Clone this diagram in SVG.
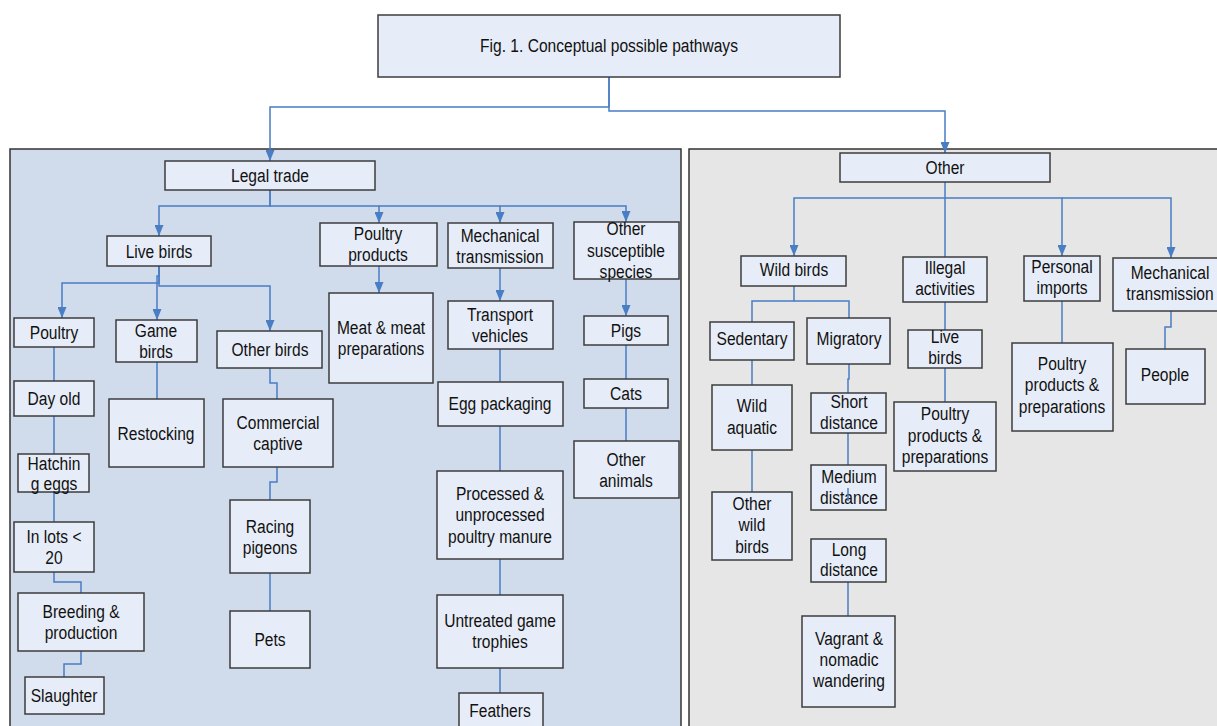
<svg xmlns="http://www.w3.org/2000/svg" width="1217" height="726" viewBox="0 0 1217 726">
<style>
.bx{fill:#e7edf8;stroke:#3c3c3c;stroke-width:1.5}
.c{fill:none;stroke:#4a7ec4;stroke-width:1.5}
.a{marker-end:url(#arr)}
text{font-family:"Liberation Sans Narrow","Arial Narrow","Liberation Sans",sans-serif;font-size:19px;fill:#111;text-anchor:middle}
</style>
<defs>
<marker id="arr" viewBox="0 0 10 10" refX="10" refY="5" markerWidth="11" markerHeight="9" markerUnits="userSpaceOnUse" orient="auto" preserveAspectRatio="none">
<path d="M0,0 L10,5 L0,10 z" fill="#4a7ec4"/>
</marker>
</defs>
<rect width="1217" height="726" fill="#fff"/>
<g id="panels">
<rect x="10" y="149" width="671" height="590" fill="#d0dbec" stroke="#333" stroke-width="1.5"/>
<rect x="689" y="149" width="540" height="590" fill="#e6e6e6" stroke="#333" stroke-width="1.5"/>
</g>
<g id="connectors">
<path class="c a" d="M609,77 V107 H270 V161"/>
<path class="c a" d="M609,77 V111 H945 V153"/>
<path class="c a" d="M270,190 V206 H159 V236"/>
<path class="c a" d="M270,190 V206 H379 V223"/>
<path class="c a" d="M379,206 H500 V223"/>
<path class="c a" d="M500,206 H626 V222"/>
<path class="c a" d="M379,266 V293"/>
<path class="c a" d="M500,268 V301"/>
<path class="c a" d="M626,279 V316"/>
<path class="c" d="M626,345 V379 M626,408 V441"/>
<path class="c" d="M500,349 V382 M500,426 V471 M500,559 V595 M500,668 V693"/>
<path class="c a" d="M159,266 V283 H62 V318"/>
<path class="c a" d="M159,266 V276 H157 V320"/>
<path class="c a" d="M159,266 V286 H270 V331"/>
<path class="c" d="M54,347 V381 M54,416 V454 M54,492 V522"/>
<path class="c" d="M54,572 V582 H81 V593"/>
<path class="c" d="M81,651 V664 H64 V677"/>
<path class="c" d="M157,362 V399"/>
<path class="c" d="M270,368 V383 H277 V399"/>
<path class="c" d="M277,467 V482 H270 V500"/>
<path class="c" d="M270,573 V611"/>
<path class="c a" d="M945,182 V198 H794 V256"/>
<path class="c" d="M945,198 V257"/>
<path class="c a" d="M945,198 H1062 V256"/>
<path class="c a" d="M1062,198 H1171 V258"/>
<path class="c" d="M794,286 V301 H752 V322"/>
<path class="c" d="M794,301 H849 V318"/>
<path class="c" d="M945,302 V330 M945,368 V402"/>
<path class="c" d="M1062,301 V343"/>
<path class="c" d="M1171,311 V327 H1165 V349"/>
<path class="c" d="M752,360 V385 M752,450 V492"/>
<path class="c" d="M849,364 V379 H848 V393"/>
<path class="c" d="M848,433 V465 M848,582 V616"/>
</g>
<g id="n-title"><rect class="bx" x="378" y="15" width="462" height="62"/><text transform="translate(609 0) scale(.82 1)" y="52">Fig. 1. Conceptual possible pathways</text></g>
<g id="n-legal"><rect class="bx" x="165" y="161" width="210" height="29"/><text transform="translate(270 0) scale(.82 1)" y="182">Legal trade</text></g>
<g id="n-livebirds"><rect class="bx" x="107" y="236" width="104" height="30"/><text transform="translate(159 0) scale(.82 1)" y="258">Live birds</text></g>
<g id="n-poultryproducts"><rect class="bx" x="320" y="223" width="117" height="43"/><text transform="translate(378 0) scale(.82 1)" y="240">Poultry</text><text transform="translate(378 0) scale(.82 1)" y="261">products</text></g>
<g id="n-mech"><rect class="bx" x="448" y="223" width="105" height="45"/><text transform="translate(500 0) scale(.82 1)" y="242">Mechanical</text><text transform="translate(500 0) scale(.82 1)" y="263">transmission</text></g>
<g id="n-othersus"><rect class="bx" x="574" y="222" width="105" height="57"/><text transform="translate(626 0) scale(.82 1)" y="235">Other</text><text transform="translate(626 0) scale(.82 1)" y="257">susceptible</text><text transform="translate(626 0) scale(.82 1)" y="278">species</text></g>
<g id="n-poultry"><rect class="bx" x="14" y="318" width="80" height="29"/><text transform="translate(54 0) scale(.82 1)" y="339">Poultry</text></g>
<g id="n-game"><rect class="bx" x="116" y="320" width="81" height="42"/><text transform="translate(156 0) scale(.82 1)" y="337">Game</text><text transform="translate(156 0) scale(.82 1)" y="358">birds</text></g>
<g id="n-otherbirds"><rect class="bx" x="217" y="331" width="105" height="37"/><text transform="translate(270 0) scale(.82 1)" y="356">Other birds</text></g>
<g id="n-meat"><rect class="bx" x="329" y="293" width="104" height="90"/><text transform="translate(381 0) scale(.82 1)" y="334">Meat &amp; meat</text><text transform="translate(381 0) scale(.82 1)" y="355">preparations</text></g>
<g id="n-transport"><rect class="bx" x="448" y="301" width="105" height="48"/><text transform="translate(500 0) scale(.82 1)" y="321">Transport</text><text transform="translate(500 0) scale(.82 1)" y="342">vehicles</text></g>
<g id="n-pigs"><rect class="bx" x="584" y="316" width="84" height="29"/><text transform="translate(626 0) scale(.82 1)" y="337">Pigs</text></g>
<g id="n-cats"><rect class="bx" x="584" y="379" width="84" height="29"/><text transform="translate(626 0) scale(.82 1)" y="400">Cats</text></g>
<g id="n-otheranimals"><rect class="bx" x="574" y="441" width="105" height="57"/><text transform="translate(626 0) scale(.82 1)" y="466">Other</text><text transform="translate(626 0) scale(.82 1)" y="487">animals</text></g>
<g id="n-dayold"><rect class="bx" x="14" y="381" width="80" height="35"/><text transform="translate(54 0) scale(.82 1)" y="405">Day old</text></g>
<g id="n-restocking"><rect class="bx" x="109" y="399" width="95" height="68"/><text transform="translate(156 0) scale(.82 1)" y="440">Restocking</text></g>
<g id="n-commercial"><rect class="bx" x="223" y="399" width="110" height="68"/><text transform="translate(278 0) scale(.82 1)" y="429">Commercial</text><text transform="translate(278 0) scale(.82 1)" y="450">captive</text></g>
<g id="n-egg"><rect class="bx" x="438" y="382" width="125" height="44"/><text transform="translate(500 0) scale(.82 1)" y="410">Egg packaging</text></g>
<g id="n-hatching"><rect class="bx" x="18" y="454" width="71" height="38"/><text transform="translate(54 0) scale(.82 1)" y="470">Hatchin</text><text transform="translate(54 0) scale(.82 1)" y="490">g eggs</text></g>
<g id="n-inlots"><rect class="bx" x="14" y="522" width="80" height="50"/><text transform="translate(54 0) scale(.82 1)" y="543">In lots &lt;</text><text transform="translate(54 0) scale(.82 1)" y="564">20</text></g>
<g id="n-breeding"><rect class="bx" x="18" y="593" width="126" height="58"/><text transform="translate(81 0) scale(.82 1)" y="618">Breeding &amp;</text><text transform="translate(81 0) scale(.82 1)" y="639">production</text></g>
<g id="n-slaughter"><rect class="bx" x="25" y="677" width="79" height="37"/><text transform="translate(64 0) scale(.82 1)" y="702">Slaughter</text></g>
<g id="n-racing"><rect class="bx" x="230" y="500" width="80" height="73"/><text transform="translate(270 0) scale(.82 1)" y="533">Racing</text><text transform="translate(270 0) scale(.82 1)" y="554">pigeons</text></g>
<g id="n-pets"><rect class="bx" x="230" y="611" width="80" height="57"/><text transform="translate(270 0) scale(.82 1)" y="646">Pets</text></g>
<g id="n-manure"><rect class="bx" x="437" y="471" width="126" height="88"/><text transform="translate(500 0) scale(.82 1)" y="500">Processed &amp;</text><text transform="translate(500 0) scale(.82 1)" y="521">unprocessed</text><text transform="translate(500 0) scale(.82 1)" y="543">poultry manure</text></g>
<g id="n-trophies"><rect class="bx" x="437" y="595" width="126" height="73"/><text transform="translate(500 0) scale(.82 1)" y="627">Untreated game</text><text transform="translate(500 0) scale(.82 1)" y="648">trophies</text></g>
<g id="n-feathers"><rect class="bx" x="459" y="693" width="84" height="45"/><text transform="translate(500 0) scale(.82 1)" y="717">Feathers</text></g>
<g id="n-other"><rect class="bx" x="840" y="153" width="210" height="29"/><text transform="translate(945 0) scale(.82 1)" y="174">Other</text></g>
<g id="n-wildbirds"><rect class="bx" x="741" y="256" width="105" height="30"/><text transform="translate(794 0) scale(.82 1)" y="276">Wild birds</text></g>
<g id="n-illegal"><rect class="bx" x="903" y="257" width="84" height="45"/><text transform="translate(945 0) scale(.82 1)" y="274">Illegal</text><text transform="translate(945 0) scale(.82 1)" y="295">activities</text></g>
<g id="n-personal"><rect class="bx" x="1024" y="256" width="76" height="45"/><text transform="translate(1062 0) scale(.82 1)" y="273">Personal</text><text transform="translate(1062 0) scale(.82 1)" y="294">imports</text></g>
<g id="n-mech2"><rect class="bx" x="1113" y="258" width="116" height="53"/><text transform="translate(1170 0) scale(.82 1)" y="279">Mechanical</text><text transform="translate(1170 0) scale(.82 1)" y="300">transmission</text></g>
<g id="n-sedentary"><rect class="bx" x="710" y="322" width="84" height="38"/><text transform="translate(752 0) scale(.82 1)" y="345">Sedentary</text></g>
<g id="n-migratory"><rect class="bx" x="807" y="318" width="83" height="46"/><text transform="translate(849 0) scale(.82 1)" y="345">Migratory</text></g>
<g id="n-livebirds2"><rect class="bx" x="908" y="330" width="74" height="38"/><text transform="translate(945 0) scale(.82 1)" y="343">Live</text><text transform="translate(945 0) scale(.82 1)" y="364">birds</text></g>
<g id="n-pp2"><rect class="bx" x="1012" y="343" width="101" height="88"/><text transform="translate(1062 0) scale(.82 1)" y="370">Poultry</text><text transform="translate(1062 0) scale(.82 1)" y="391">products &amp;</text><text transform="translate(1062 0) scale(.82 1)" y="413">preparations</text></g>
<g id="n-people"><rect class="bx" x="1126" y="349" width="79" height="55"/><text transform="translate(1165 0) scale(.82 1)" y="381">People</text></g>
<g id="n-aquatic"><rect class="bx" x="712" y="385" width="80" height="65"/><text transform="translate(752 0) scale(.82 1)" y="412">Wild</text><text transform="translate(752 0) scale(.82 1)" y="434">aquatic</text></g>
<g id="n-short"><rect class="bx" x="811" y="393" width="75" height="40"/><text transform="translate(849 0) scale(.82 1)" y="408">Short</text><text transform="translate(849 0) scale(.82 1)" y="429">distance</text></g>
<g id="n-pp1"><rect class="bx" x="894" y="402" width="102" height="69"/><text transform="translate(945 0) scale(.82 1)" y="420">Poultry</text><text transform="translate(945 0) scale(.82 1)" y="442">products &amp;</text><text transform="translate(945 0) scale(.82 1)" y="463">preparations</text></g>
<g id="n-medium"><rect class="bx" x="811" y="465" width="75" height="45"/><text transform="translate(849 0) scale(.82 1)" y="483">Medium</text><text transform="translate(849 0) scale(.82 1)" y="504">distance</text></g>
<path class="c" d="M848,488 V501"/>
<g id="n-otherwild"><rect class="bx" x="712" y="492" width="80" height="68"/><text transform="translate(752 0) scale(.82 1)" y="510">Other</text><text transform="translate(752 0) scale(.82 1)" y="531">wild</text><text transform="translate(752 0) scale(.82 1)" y="553">birds</text></g>
<g id="n-long"><rect class="bx" x="811" y="539" width="75" height="43"/><text transform="translate(849 0) scale(.82 1)" y="556">Long</text><text transform="translate(849 0) scale(.82 1)" y="576">distance</text></g>
<g id="n-vagrant"><rect class="bx" x="802" y="616" width="93" height="91"/><text transform="translate(849 0) scale(.82 1)" y="645">Vagrant &amp;</text><text transform="translate(849 0) scale(.82 1)" y="666">nomadic</text><text transform="translate(849 0) scale(.82 1)" y="687">wandering</text></g>
</svg>
